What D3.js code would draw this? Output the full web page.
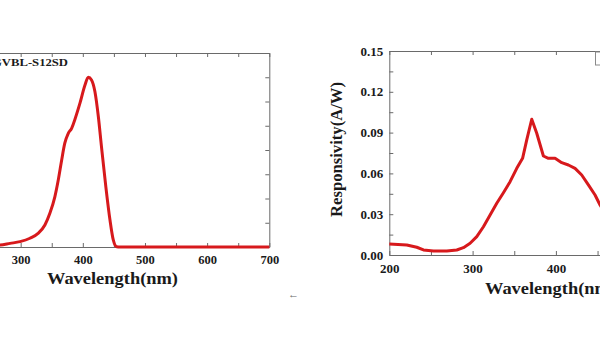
<!DOCTYPE html>
<html><head><meta charset="utf-8">
<script src="https://cdn.jsdelivr.net/npm/d3@7"></script>
<style>
html,body{margin:0;padding:0;background:#fff;}
svg{display:block;}
text{font-family:"Liberation Serif","Times New Roman",serif;font-weight:bold;fill:#1a1a1a;}
</style></head>
<body>
<svg id="c" width="600" height="339"></svg>
<script>
// Left panel: GVBL-S12SD normalized spectral response (arbitrary units)
const leftWavelength = [200,250,267,283,299,315,328,339,347,355,360.5,366,371,376.6,382,387,395.4,403.5,408.8,414,419.5,425,430,437,443.7,449,454.5,460,500,600,700];
const leftIntensity  = [0.02,0.04,0.08,0.15,0.22,0.36,0.56,0.91,1.39,2.07,2.76,3.59,4.28,4.69,4.89,5.24,5.93,6.68,7.0,6.89,6.40,5.37,4.14,2.49,1.11,0.29,0.01,0,0,0,0];
const leftLabel = "GVBL-S12SD";
const leftXTicks = [250,300,350,400,450,500,550,600,650,700];
const leftXLabels = [300,400,500,600,700];
const leftYTicks = [0,1,2,3,4,5,6,7,8];

// Right panel: responsivity (A/W)
const rightWavelength = [200,221,233,241,253,269,281,289,297,305,313,321,329,337,345,353,360,365,371,377,385,391,399,407,415,423,431,439,447,453,460,470,480];
const rightResponsivity = [0.0081,0.0074,0.0057,0.0037,0.0029,0.0029,0.0037,0.0054,0.0086,0.0135,0.0208,0.0294,0.038,0.0458,0.0539,0.0637,0.0711,0.0846,0.0998,0.0895,0.0728,0.0711,0.0711,0.0679,0.0662,0.0637,0.0588,0.0515,0.0441,0.0368,0.030,0.021,0.012];
const rightXTicks = [200,250,300,350,400,450,500,550,600];
const rightXLabels = [200,300,400];
const rightYTicks = [0,0.015,0.03,0.045,0.06,0.075,0.09,0.105,0.12,0.135,0.15];
const rightYLabels = [0,0.03,0.06,0.09,0.12,0.15];

const svg = d3.select("#c");
const red = "#d7191c";
const frame = "#6a6a6a";
const styleTicks = (g, fs) => g.selectAll("text").attr("font-size",fs)
  .attr("font-family","Liberation Serif").attr("font-weight","bold").attr("fill","#1a1a1a");

// ---------- Left panel ----------
const xL = d3.scaleLinear().domain([200,700]).range([-41.5,269.3]);
const yL = d3.scaleLinear().domain([0,8]).range([247,53]);
const gL = svg.append("g");

gL.append("g").attr("class","axis").attr("transform","translate(0,247)")
  .call(d3.axisBottom(xL).tickValues(leftXTicks).tickSizeInner(-4).tickSizeOuter(0).tickPadding(8)
    .tickFormat(d => leftXLabels.includes(d) ? d : ""))
  .call(g => styleTicks(g,12.5));
gL.append("g").attr("class","axis").attr("transform","translate(0,53)")
  .call(d3.axisTop(xL).tickValues(leftXTicks).tickSizeInner(-4).tickSizeOuter(0).tickFormat(""));
gL.append("g").attr("class","axis").attr("transform","translate(269.3,0)")
  .call(d3.axisLeft(yL).tickValues(leftYTicks).tickSizeInner(4).tickSizeOuter(0).tickFormat(""));
gL.selectAll(".axis path").attr("stroke",frame);
gL.selectAll(".axis line").attr("stroke",frame);

gL.append("path")
  .datum(leftWavelength.map((w,i)=>[w,leftIntensity[i]]))
  .attr("fill","none").attr("stroke",red).attr("stroke-width",3).attr("stroke-linejoin","round")
  .attr("d", d3.line().x(d=>xL(d[0])).y(d=>yL(d[1])).curve(d3.curveMonotoneX));

gL.append("text").attr("x",-8).attr("y",66).attr("font-size",11)
  .attr("textLength",76).attr("lengthAdjust","spacingAndGlyphs").text(leftLabel);

gL.append("text").attr("x",47).attr("y",284).attr("font-size",16.5)
  .attr("textLength",131).attr("lengthAdjust","spacingAndGlyphs").text("Wavelength(nm)");

// ---------- Right panel ----------
const xR = d3.scaleLinear().domain([200,600]).range([389.3,722.5]);
const yR = d3.scaleLinear().domain([0,0.15]).range([255,51]);
const gR = svg.append("g");

gR.append("g").attr("class","axis").attr("transform","translate(0,255)")
  .call(d3.axisBottom(xR).tickValues(rightXTicks).tickSizeInner(-4).tickSizeOuter(0).tickPadding(9)
    .tickFormat(d => rightXLabels.includes(d) ? d : ""))
  .call(g => styleTicks(g,13));
gR.append("g").attr("class","axis").attr("transform","translate(0,51)")
  .call(d3.axisTop(xR).tickValues(rightXTicks).tickSizeInner(-4).tickSizeOuter(0).tickFormat(""));
gR.append("g").attr("class","axis").attr("transform","translate(389.3,0)")
  .call(d3.axisLeft(yR).tickValues(rightYTicks).tickSizeInner(-4).tickSizeOuter(0).tickPadding(6)
    .tickFormat(d => rightYLabels.some(v=>Math.abs(v-d)<1e-9) ? d3.format(".2f")(d) : ""))
  .call(g => styleTicks(g,13));
gR.selectAll(".axis path").attr("stroke",frame);
gR.selectAll(".axis line").attr("stroke",frame);

gR.append("path")
  .datum(rightWavelength.map((w,i)=>[w,rightResponsivity[i]]))
  .attr("fill","none").attr("stroke",red).attr("stroke-width",3).attr("stroke-linejoin","round")
  .attr("d", d3.line().x(d=>xR(d[0])).y(d=>yR(d[1])));

// legend box (cut off at the right edge)
gR.append("rect").attr("x",595.5).attr("y",52).attr("width",20).attr("height",13)
  .attr("fill","#fff").attr("stroke","#8a8a8a").attr("stroke-width",1);

gR.append("text").attr("transform","translate(342,149.5) rotate(-90)")
  .attr("text-anchor","middle").attr("font-size",17.5)
  .attr("textLength",135).attr("lengthAdjust","spacingAndGlyphs").text("Responsivity(A/W)");

gR.append("text").attr("x",485).attr("y",294).attr("font-size",16.5)
  .attr("textLength",131).attr("lengthAdjust","spacingAndGlyphs").text("Wavelength(nm)");

// small stray cursor mark
svg.append("text").attr("x",288).attr("y",298).attr("font-size",11)
  .style("fill","#666").text("\u2190");
</script>
</body></html>
